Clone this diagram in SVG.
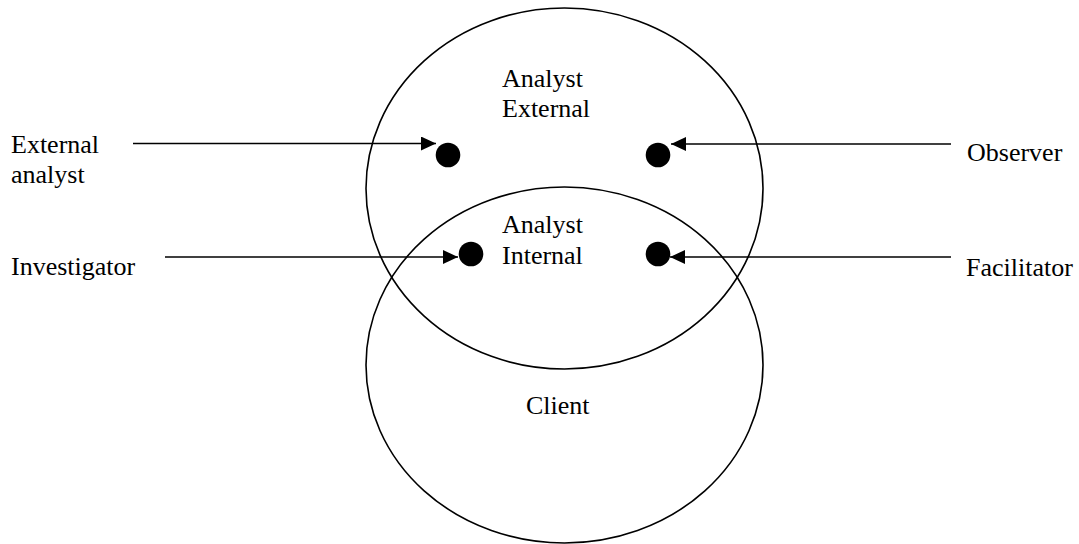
<svg xmlns="http://www.w3.org/2000/svg" width="1079" height="544" viewBox="0 0 1079 544">
<style>
.sh{fill:none;stroke:#000;stroke-width:1.6}
.ln{fill:none;stroke:#000;stroke-width:1.6}
.dot{fill:#000}
text{font-family:"Liberation Serif","Times New Roman",serif;font-size:26px;fill:#000}
</style>
<defs>
<marker id="ah" markerUnits="userSpaceOnUse" markerWidth="16" markerHeight="14" refX="15" refY="7" orient="auto">
<path d="M0,0 L15,7 L0,14 Z" fill="#000"/>
</marker>
</defs>
<g id="ellipse-external">
<ellipse class="sh" cx="564.5" cy="188.5" rx="198.5" ry="180.5"/>
<text x="502" y="87">Analyst</text>
<text x="502" y="117">External</text>
</g>
<g id="ellipse-client">
<ellipse class="sh" cx="564.5" cy="365" rx="198.5" ry="178"/>
<text x="526" y="414">Client</text>
</g>
<g id="internal-label">
<text x="502" y="233">Analyst</text>
<text x="502" y="264">Internal</text>
</g>
<g id="dot-external-analyst"><circle class="dot" cx="448" cy="155" r="12.3"/></g>
<g id="dot-observer"><circle class="dot" cx="658" cy="155" r="12.3"/></g>
<g id="dot-investigator"><circle class="dot" cx="471" cy="254" r="12.3"/></g>
<g id="dot-facilitator"><circle class="dot" cx="658" cy="254" r="12.3"/></g>
<g id="label-external-analyst">
<text x="11" y="153">External</text>
<text x="11" y="183">analyst</text>
</g>
<g id="label-investigator"><text x="11" y="275">Investigator</text></g>
<g id="label-observer"><text x="967" y="161">Observer</text></g>
<g id="label-facilitator"><text x="966" y="276">Facilitator</text></g>
<g id="connectors">
<line class="ln" x1="133" y1="143.5" x2="436" y2="143.5" marker-end="url(#ah)"/>
<line class="ln" x1="951" y1="144" x2="671" y2="144" marker-end="url(#ah)"/>
<line class="ln" x1="165" y1="257" x2="458" y2="257" marker-end="url(#ah)"/>
<line class="ln" x1="951" y1="257" x2="670" y2="257" marker-end="url(#ah)"/>
</g>
</svg>
